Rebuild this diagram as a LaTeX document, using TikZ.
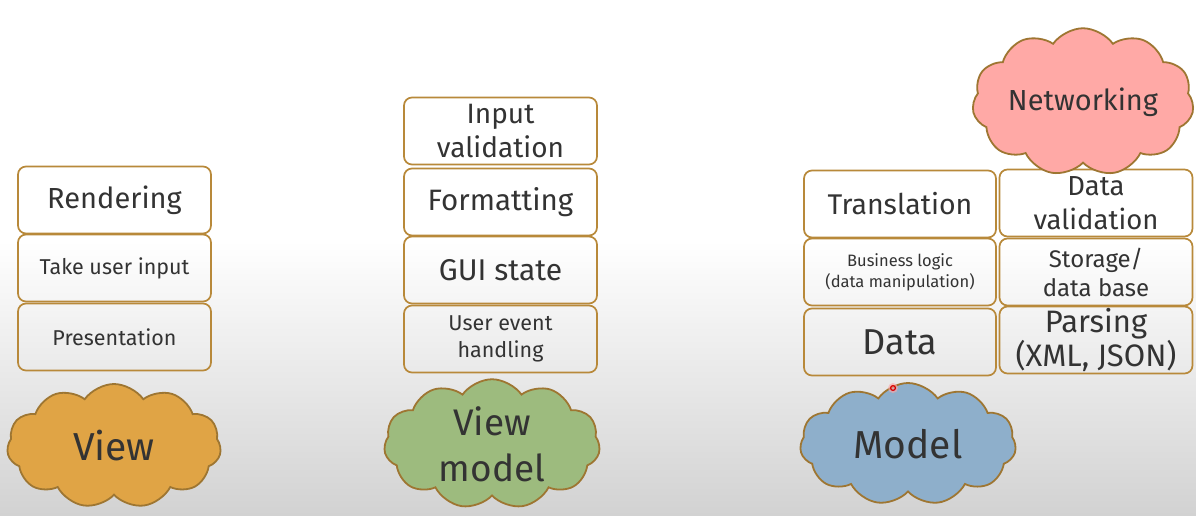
\documentclass[tikz,border=0pt]{standalone}
\usepackage{fontspec}
\setmainfont{Fira Sans}
\usetikzlibrary{shapes.symbols}
\definecolor{boxc}{HTML}{B8893A}
\definecolor{cloudc}{HTML}{9E7632}
\definecolor{txt}{HTML}{333333}
\definecolor{viewc}{HTML}{E0A445}
\definecolor{vmc}{HTML}{9DBB7E}
\definecolor{modelc}{HTML}{8EAFCB}
\definecolor{netc}{HTML}{FFA9A6}
\definecolor{bgbot}{HTML}{D2D2D2}
\tikzset{
  x=1pt, y=-1pt,
  layer/.style={draw=boxc, line width=1.7pt, rounded corners=8pt, align=center,
    text=txt, inner sep=0pt, minimum width=193pt, minimum height=67pt},
  cl/.style={cloud, cloud puffs=11, cloud puff arc=110, aspect=1.75, draw=cloudc,
    line width=1.8pt, align=center, text=txt, inner sep=0pt},
}
\newcommand{\fs}[2]{\fontsize{#1}{#2}\selectfont}
\begin{document}
\begin{tikzpicture}
\useasboundingbox (0,0) rectangle (1196,516);
\fill[white] (0,0) rectangle (1196,516);
\shade[top color=white, bottom color=bgbot] (0,240) rectangle (1196,516);

% View column
\node[layer, font=\fs{29}{34}] (rend) at (114.5,200) {Rendering};
\node[layer, font=\fs{21.5}{26}] (take) at (114.5,268) {Take user input};
\node[layer, font=\fs{21.5}{26}] (pres) at (114.5,337) {Presentation};
\node[cl, fill=viewc, minimum width=214pt, minimum height=124pt, font=\fs{39}{46}] (view) at (114,446) {View};

% View model column
\node[layer, font=\fs{28}{34}] (inval) at (500.5,131) {Input\\validation};
\node[layer, font=\fs{29.5}{35}] (fmt) at (500.5,202) {Formatting};
\node[layer, font=\fs{30}{35}] (gui) at (500.5,270) {GUI state};
\node[layer, font=\fs{21.5}{27}] (uevt) at (500.5,339) {User event\\handling};
\node[cl, fill=vmc, minimum width=216pt, minimum height=127pt, font=\fs{37}{46}] (vm) at (492,444) {View\\model};

% Model column
\node[layer, minimum width=192pt, font=\fs{28.5}{34}] (trans) at (900,204) {Translation};
\node[layer, minimum width=192pt, font=\fs{16.5}{21}] (biz) at (900,272) {Business logic\\(data manipulation)};
\node[layer, minimum width=192pt, font=\fs{36}{42}] (data) at (900,342) {Data};
\node[layer, font=\fs{27.5}{34}] (dval) at (1096,203) {Data\\validation};
\node[layer, font=\fs{24}{29}] (stor) at (1096,272) {Storage/\\data base};
\node[layer, font=\fs{31}{34}] (pars) at (1096,340) {Parsing\\(XML, JSON)};
\node[cl, fill=modelc, minimum width=216pt, minimum height=122pt, font=\fs{39}{46}] (model) at (908,444) {Model};
\node[cl, fill=netc, minimum width=218pt, minimum height=124pt, font=\fs{29}{34}] (net) at (1083,102) {Networking};

% pointer mark
\fill[red!35, opacity=0.6] (893,388) circle (5);
\draw[red!85!black, line width=1.2pt] (893,388) circle (2.4);
\end{tikzpicture}
\end{document}
